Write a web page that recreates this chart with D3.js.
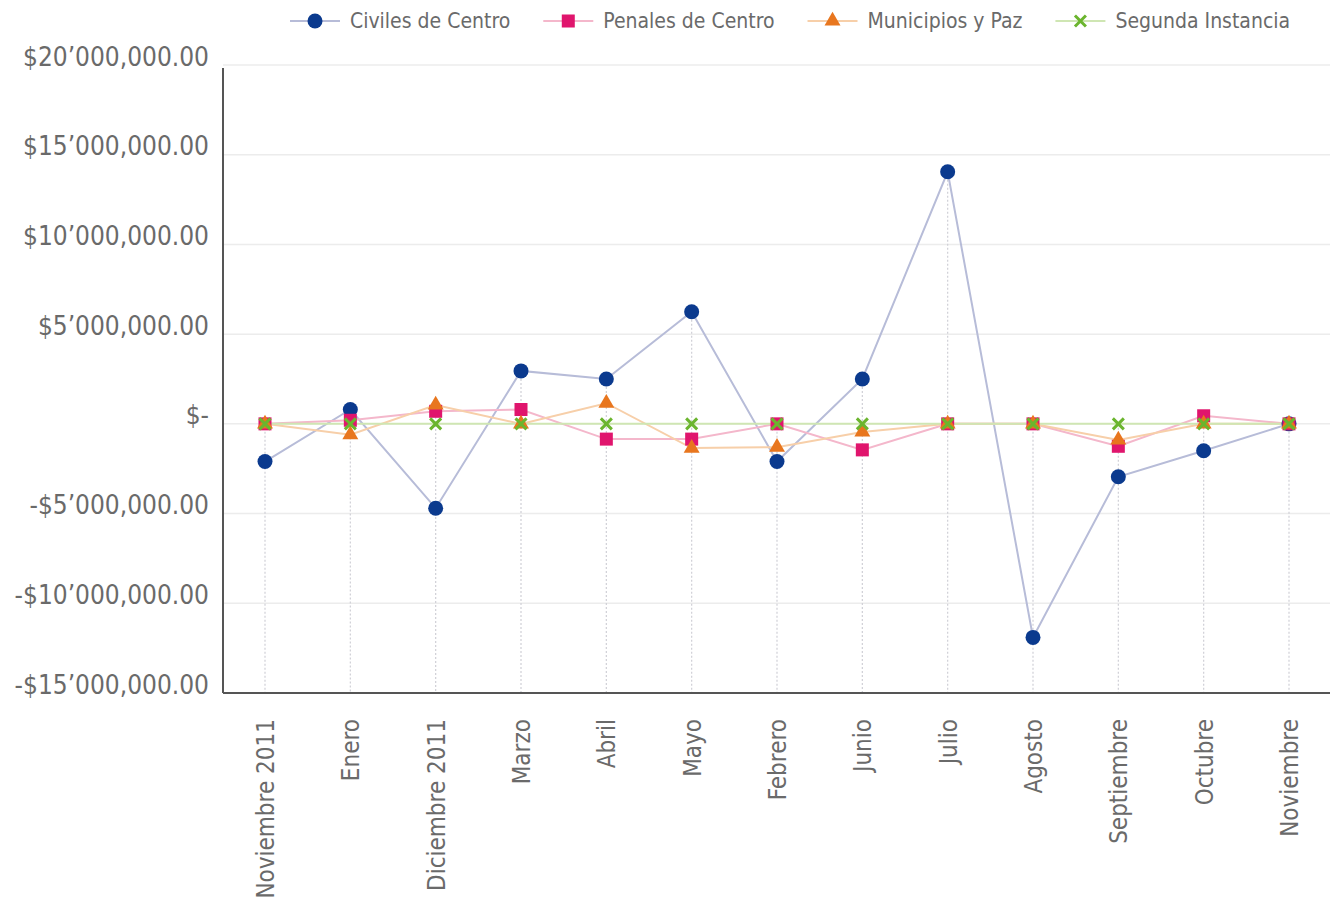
<!DOCTYPE html>
<html>
<head>
<meta charset="utf-8">
<script src="https://cdn.jsdelivr.net/npm/d3@7"></script>
<style>
  html, body { margin: 0; padding: 0; background: #fff; }
  svg { display: block; }
  text { font-family: "Liberation Sans Narrow", "DejaVu Sans Condensed", "Liberation Sans", sans-serif; fill: #6a6a6a; }
</style>
</head>
<body>
<svg id="chart" width="1339" height="909"></svg>
<script>
// ---- Data ----
const categories = ["Noviembre 2011", "Enero", "Diciembre 2011", "Marzo", "Abril", "Mayo", "Febrero", "Junio", "Julio", "Agosto", "Septiembre", "Octubre", "Noviembre"];
const seriesNames = ["Civiles de Centro", "Penales de Centro", "Municipios y Paz", "Segunda Instancia"];
const civiles    = [-2100000, 800000, -4700000, 2950000, 2500000, 6250000, -2100000, 2500000, 14050000, -11900000, -2950000, -1500000, 0];
const penales    = [0, 200000, 700000, 800000, -850000, -850000, 0, -1450000, 0, 0, -1250000, 450000, 0];
const municipios = [0, -600000, 1050000, 0, 1150000, -1350000, -1300000, -450000, 0, 0, -900000, 0, 0];
const segunda    = [0, 0, 0, 0, 0, 0, 0, 0, 0, 0, 0, 0, 0];
const yTicks = [-15000000, -10000000, -5000000, 0, 5000000, 10000000, 15000000, 20000000];

const seriesValues = [civiles, penales, municipios, segunda];
const markerColors = ["#0b3a8e", "#e0156d", "#e8761e", "#6bb52e"];
const lineColors   = ["#b7bcd8", "#f4b7cb", "#f7cfa9", "#cfe6b3"];
const symbols      = ["circle", "square", "triangle", "cross"];

const svg = d3.select("#chart");
const plotLeft = 223, plotRight = 1330, plotTop = 65, plotBottom = 693;

const x = d3.scalePoint().domain(categories).range([265, 1289]);
const y = d3.scaleLinear().domain([-15000000, 20000000]).range([plotBottom, plotTop]);

function fmt(v) {
  if (v === 0) return "$-";
  const a = Math.abs(v);
  const m = Math.floor(a / 1e6);
  const rest = a % 1e6;
  const th = Math.floor(rest / 1000), u = rest % 1000;
  const p = n => String(n).padStart(3, "0");
  return (v < 0 ? "-" : "") + "$" + m + "\u2019" + p(th) + "," + p(u) + ".00";
}

// horizontal gridlines
svg.append("g").selectAll("line").data(yTicks).join("line")
  .attr("x1", plotLeft).attr("x2", plotRight)
  .attr("y1", d => y(d)).attr("y2", d => y(d))
  .attr("stroke", "#ececec").attr("stroke-width", 1.5);

// vertical dotted drop lines from the highest point of each category
svg.append("g").selectAll("line").data(categories).join("line")
  .attr("x1", d => x(d)).attr("x2", d => x(d))
  .attr("y1", (d, i) => y(d3.max(seriesValues, s => s[i])))
  .attr("y2", plotBottom)
  .attr("stroke", "#cfcfd6").attr("stroke-width", 1.2).attr("stroke-dasharray", "2,2");

// Y axis
const yAxis = svg.append("g").attr("transform", `translate(${plotLeft},0)`)
  .call(d3.axisLeft(y).tickValues(yTicks).tickFormat(fmt).tickSize(0).tickPadding(14));
yAxis.select(".domain").remove();
yAxis.selectAll("text")
  .attr("dy", "-0.0em")
  .style("font-size", "26px")
  .attr("fill", "#6a6a6a");

// X axis
const xAxis = svg.append("g").attr("transform", `translate(0,${plotBottom})`)
  .call(d3.axisBottom(x).tickSize(0));
xAxis.select(".domain").remove();
xAxis.selectAll("text")
  .attr("transform", "rotate(-90)")
  .attr("text-anchor", "end")
  .attr("x", -26).attr("y", 0).attr("dy", "0.35em")
  .style("font-size", "24px")
  .attr("fill", "#6a6a6a");

// axis lines
svg.append("line").attr("x1", plotLeft).attr("x2", plotLeft).attr("y1", plotTop + 3).attr("y2", plotBottom)
  .attr("stroke", "#555").attr("stroke-width", 2);
svg.append("line").attr("x1", plotLeft).attr("x2", plotRight).attr("y1", plotBottom).attr("y2", plotBottom)
  .attr("stroke", "#555").attr("stroke-width", 2);

// series lines
const line = d3.line().x((d, i) => x(categories[i])).y(d => y(d));
seriesValues.forEach((vals, k) => {
  svg.append("path").datum(vals)
    .attr("d", line).attr("fill", "none")
    .attr("stroke", lineColors[k]).attr("stroke-width", 2);
});

function drawMarker(g, type, color) {
  if (type === "circle") {
    g.append("circle").attr("r", 7.5).attr("fill", color);
  } else if (type === "square") {
    g.append("rect").attr("x", -6.5).attr("y", -6.5).attr("width", 13).attr("height", 13).attr("fill", color);
  } else if (type === "triangle") {
    g.append("path").attr("d", d3.symbol(d3.symbolTriangle, 110)()).attr("fill", color);
  } else {
    g.append("path").attr("d", "M-5.5,-5.5L5.5,5.5M-5.5,5.5L5.5,-5.5")
      .attr("stroke", color).attr("stroke-width", 3).attr("fill", "none");
  }
}

// markers
seriesValues.forEach((vals, k) => {
  const g = svg.append("g");
  vals.forEach((v, i) => {
    const mg = g.append("g").attr("transform", `translate(${x(categories[i])},${y(v)})`);
    drawMarker(mg, symbols[k], markerColors[k]);
  });
});

// legend
let lx = 290;
const ly = 21;
seriesNames.forEach((name, k) => {
  const g = svg.append("g").attr("transform", `translate(${lx},${ly})`);
  g.append("line").attr("x1", 0).attr("x2", 50).attr("y1", 0).attr("y2", 0)
    .attr("stroke", lineColors[k]).attr("stroke-width", 2);
  const mg = g.append("g").attr("transform", "translate(25,0)");
  drawMarker(mg, symbols[k], markerColors[k]);
  const t = g.append("text").attr("x", 60).attr("y", 0).attr("dy", "0.35em")
    .style("font-size", "21px").text(name);
  lx += 60 + t.node().getComputedTextLength() + 33;
});
</script>
</body>
</html>
